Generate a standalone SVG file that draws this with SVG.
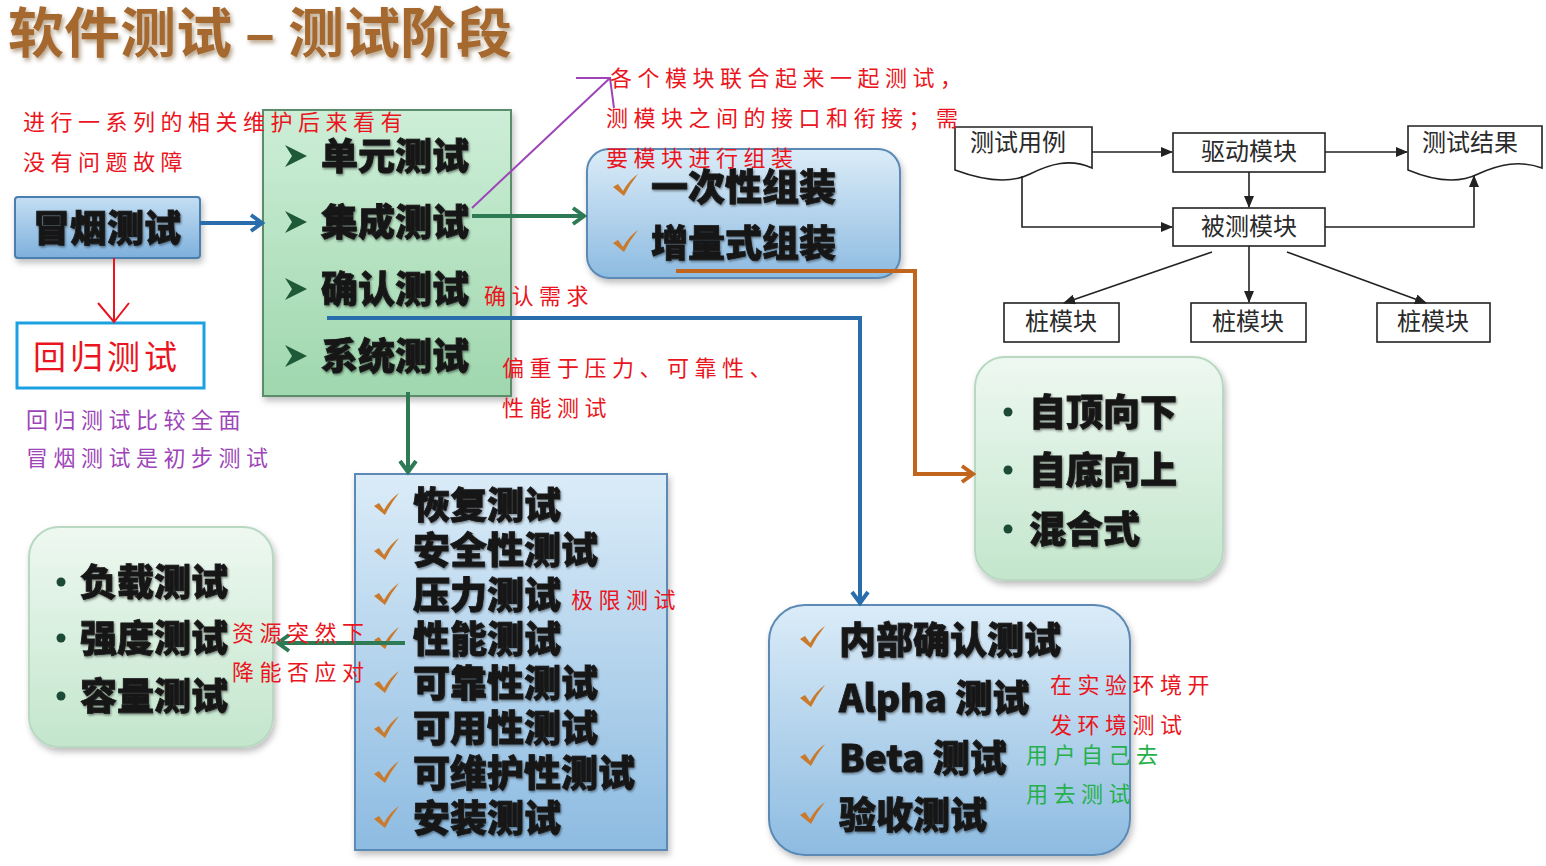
<svg xmlns="http://www.w3.org/2000/svg" width="1546" height="866" viewBox="0 0 1546 866">
  <defs>
    <style>
      .title { font-family: 'Noto Sans CJK SC', sans-serif; font-size: 54px; font-weight: 700; fill: #a5672d; }
      .item { font-family: 'Noto Sans CJK SC', sans-serif; font-size: 37px; font-weight: 900; fill: #161616; stroke: #161616; stroke-width: 0.8; }
      .note { font-family: 'Noto Sans CJK SC', sans-serif; font-size: 22px; font-weight: 400; letter-spacing: 5.5px; }
      .red { fill: #ea1520; }
      .purple { fill: #9d45b8; }
      .green { fill: #25b04a; }
      .fc { font-family: 'Noto Sans CJK SC', sans-serif; font-size: 24px; font-weight: 400; fill: #2a2a2a; }
      .fcbox { fill: #ffffff; stroke: #222222; stroke-width: 1.6; }
      .fcline { fill: none; stroke: #222222; stroke-width: 1.6; }
      .chk { fill: #c97a2c; }
      .bul { fill: #1d4a36; }
    </style>
    <linearGradient id="gGreen" x1="0" y1="0" x2="0" y2="1">
      <stop offset="0" stop-color="#cdeed7"/>
      <stop offset="1" stop-color="#9fd7ae"/>
    </linearGradient>
    <linearGradient id="gMint" x1="0" y1="0" x2="0" y2="1">
      <stop offset="0" stop-color="#eef8f1"/>
      <stop offset="1" stop-color="#c3e6cc"/>
    </linearGradient>
    <linearGradient id="gBlue" x1="0" y1="0" x2="0" y2="1">
      <stop offset="0" stop-color="#dbecf8"/>
      <stop offset="1" stop-color="#8dbbe1"/>
    </linearGradient>
    <linearGradient id="gBlueBtn" x1="0" y1="0" x2="0" y2="1">
      <stop offset="0" stop-color="#c4def3"/>
      <stop offset="1" stop-color="#7eb0dc"/>
    </linearGradient>
    <filter id="sh" x="-10%" y="-10%" width="130%" height="130%">
      <feDropShadow dx="2" dy="4" stdDeviation="3" flood-color="#000" flood-opacity="0.25"/>
    </filter>
    <filter id="ts" x="-5%" y="-10%" width="115%" height="130%">
      <feDropShadow dx="1" dy="1.5" stdDeviation="1.2" flood-color="#000" flood-opacity="0.45"/>
    </filter>
    <filter id="tts" x="-5%" y="-20%" width="115%" height="150%">
      <feDropShadow dx="2" dy="3" stdDeviation="2" flood-color="#5a3210" flood-opacity="0.45"/>
    </filter>
    <marker id="hBlue" viewBox="0 0 20 20" refX="16" refY="10" markerWidth="20" markerHeight="20" markerUnits="userSpaceOnUse" orient="auto">
      <path d="M5,2 L16,10 L5,18" fill="none" stroke="#2a6dad" stroke-width="4"/>
    </marker>
    <marker id="hGreen" viewBox="0 0 20 20" refX="16" refY="10" markerWidth="20" markerHeight="20" markerUnits="userSpaceOnUse" orient="auto">
      <path d="M5,2 L16,10 L5,18" fill="none" stroke="#2d7a55" stroke-width="4"/>
    </marker>
    <marker id="hOrange" viewBox="0 0 20 20" refX="16" refY="10" markerWidth="20" markerHeight="20" markerUnits="userSpaceOnUse" orient="auto">
      <path d="M5,2 L16,10 L5,18" fill="none" stroke="#c2651c" stroke-width="4"/>
    </marker>
    <marker id="hFc" viewBox="0 0 12 10" refX="11" refY="5" markerWidth="12" markerHeight="10" markerUnits="userSpaceOnUse" orient="auto">
      <path d="M0,0 L12,5 L0,10 Z" fill="#222"/>
    </marker>
    <path id="check" d="M-12,1 L-7,-2 L-2,5 Q4,-6 13,-12 Q5,-2 -1,10 Z"/>
    <path id="chev" d="M-11,-11 L11,0 L-11,11 L-4,0 Z"/>
  </defs>

  <rect x="0" y="0" width="1546" height="866" fill="#ffffff"/>

  <!-- heading -->
  <text class="title" x="8" y="53" textLength="504" lengthAdjust="spacingAndGlyphs" filter="url(#tts)">软件测试 – 测试阶段</text>

  <!-- smoke test -->
  <g id="smoke">
    <rect x="15" y="197" width="185" height="61" rx="3" fill="url(#gBlueBtn)" stroke="#4a7fae" stroke-width="2" filter="url(#sh)"/>
    <text class="item" x="33" y="242" filter="url(#ts)">冒烟测试</text>
  </g>

  <!-- regression test -->
  <g id="regression">
    <rect x="17" y="323" width="187" height="65" fill="#ffffff" stroke="#1ba1e2" stroke-width="3"/>
    <text x="33" y="369" font-family="'Noto Sans CJK SC', sans-serif" font-size="33" letter-spacing="4" fill="#ea1520">回归测试</text>
  </g>

  <!-- test levels -->
  <g id="levels">
    <rect x="263" y="110" width="248" height="286" fill="url(#gGreen)" stroke="#5c8c6a" stroke-width="2" filter="url(#sh)"/>
    <use href="#chev" x="296" y="156" fill="#1e5a38"/>
    <use href="#chev" x="296" y="222" fill="#1e5a38"/>
    <use href="#chev" x="296" y="289" fill="#1e5a38"/>
    <use href="#chev" x="296" y="356" fill="#1e5a38"/>
    <text class="item" x="321" y="170" filter="url(#ts)">单元测试</text>
    <text class="item" x="321" y="236" filter="url(#ts)">集成测试</text>
    <text class="item" x="321" y="303" filter="url(#ts)">确认测试</text>
    <text class="item" x="321" y="370" filter="url(#ts)">系统测试</text>
  </g>

  <!-- assembly -->
  <g id="assembly">
    <rect x="587" y="149" width="313" height="129" rx="22" fill="url(#gBlue)" stroke="#5b8ab5" stroke-width="2" filter="url(#sh)"/>
    <use href="#check" class="chk" x="625" y="186"/>
    <use href="#check" class="chk" x="625" y="242"/>
    <text class="item" x="651" y="201" filter="url(#ts)">一次性组装</text>
    <text class="item" x="651" y="257" filter="url(#ts)">增量式组装</text>
  </g>

  <!-- integration strategies -->
  <g id="strategies">
    <rect x="975" y="357" width="248" height="223" rx="30" fill="url(#gMint)" stroke="#b9d8c2" stroke-width="2" filter="url(#sh)"/>
    <circle class="bul" cx="1008" cy="412" r="4.5"/>
    <circle class="bul" cx="1008" cy="470" r="4.5"/>
    <circle class="bul" cx="1008" cy="529" r="4.5"/>
    <text class="item" x="1029" y="426" filter="url(#ts)">自顶向下</text>
    <text class="item" x="1029" y="484" filter="url(#ts)">自底向上</text>
    <text class="item" x="1029" y="543" filter="url(#ts)">混合式</text>
  </g>

  <!-- system test kinds -->
  <g id="system">
    <rect x="355" y="474" width="312" height="376" fill="url(#gBlue)" stroke="#5b8ab5" stroke-width="2" filter="url(#sh)"/>
    <use href="#check" class="chk" x="386" y="505"/>
    <use href="#check" class="chk" x="386" y="550"/>
    <use href="#check" class="chk" x="386" y="595"/>
    <use href="#check" class="chk" x="386" y="639"/>
    <use href="#check" class="chk" x="386" y="683"/>
    <use href="#check" class="chk" x="386" y="728"/>
    <use href="#check" class="chk" x="386" y="773"/>
    <use href="#check" class="chk" x="386" y="818"/>
    <text class="item" x="413" y="519" filter="url(#ts)">恢复测试</text>
    <text class="item" x="413" y="564" filter="url(#ts)">安全性测试</text>
    <text class="item" x="413" y="609" filter="url(#ts)">压力测试</text>
    <text class="item" x="413" y="653" filter="url(#ts)">性能测试</text>
    <text class="item" x="413" y="697" filter="url(#ts)">可靠性测试</text>
    <text class="item" x="413" y="742" filter="url(#ts)">可用性测试</text>
    <text class="item" x="413" y="787" filter="url(#ts)">可维护性测试</text>
    <text class="item" x="413" y="832" filter="url(#ts)">安装测试</text>
  </g>

  <!-- load tests -->
  <g id="load">
    <rect x="29" y="527" width="244" height="220" rx="30" fill="url(#gMint)" stroke="#b9d8c2" stroke-width="2" filter="url(#sh)"/>
    <circle class="bul" cx="61" cy="582" r="4.5"/>
    <circle class="bul" cx="61" cy="638" r="4.5"/>
    <circle class="bul" cx="61" cy="696" r="4.5"/>
    <text class="item" x="80" y="596" filter="url(#ts)">负载测试</text>
    <text class="item" x="80" y="652" filter="url(#ts)">强度测试</text>
    <text class="item" x="80" y="710" filter="url(#ts)">容量测试</text>
  </g>

  <!-- acceptance -->
  <g id="acceptance">
    <rect x="769" y="605" width="361" height="250" rx="36" fill="url(#gBlue)" stroke="#5b8ab5" stroke-width="2" filter="url(#sh)"/>
    <use href="#check" class="chk" x="812" y="638"/>
    <use href="#check" class="chk" x="812" y="697"/>
    <use href="#check" class="chk" x="812" y="756"/>
    <use href="#check" class="chk" x="812" y="814"/>
    <text class="item" x="839" y="654" filter="url(#ts)">内部确认测试</text>
    <text class="item" x="839" y="712" filter="url(#ts)">Alpha 测试</text>
    <text class="item" x="839" y="772" filter="url(#ts)">Beta 测试</text>
    <text class="item" x="839" y="829" filter="url(#ts)">验收测试</text>
  </g>

  <!-- driver / stub flowchart -->
  <g id="fc-cases">
    <path class="fcbox" d="M955,127 H1092 V168 C1070,158 1050,164 1030,174 C1010,184 982,180 955,170 Z"/>
    <text class="fc" x="970" y="151">测试用例</text>
  </g>
  <g id="fc-driver">
    <rect class="fcbox" x="1173" y="133" width="152" height="39"/>
    <text class="fc" x="1249" y="160" text-anchor="middle">驱动模块</text>
  </g>
  <g id="fc-result">
    <path class="fcbox" d="M1408,126 H1542 V168 C1520,160 1500,164 1478,174 C1458,184 1432,180 1408,170 Z"/>
    <text class="fc" x="1422" y="151">测试结果</text>
  </g>
  <g id="fc-unit">
    <rect class="fcbox" x="1173" y="208" width="152" height="38"/>
    <text class="fc" x="1249" y="235" text-anchor="middle">被测模块</text>
  </g>
  <g id="fc-stub1">
    <rect class="fcbox" x="1004" y="303" width="115" height="39"/>
    <text class="fc" x="1061" y="330" text-anchor="middle">桩模块</text>
  </g>
  <g id="fc-stub2">
    <rect class="fcbox" x="1191" y="303" width="115" height="39"/>
    <text class="fc" x="1248" y="330" text-anchor="middle">桩模块</text>
  </g>
  <g id="fc-stub3">
    <rect class="fcbox" x="1377" y="303" width="113" height="39"/>
    <text class="fc" x="1433" y="330" text-anchor="middle">桩模块</text>
  </g>

  <!-- connectors, drawn over the boxes -->
  <g id="connectors">
    <line x1="200" y1="223" x2="262" y2="223" stroke="#2a6dad" stroke-width="4" marker-end="url(#hBlue)"/>
    <line x1="472" y1="216" x2="584" y2="216" stroke="#2d7a55" stroke-width="4" marker-end="url(#hGreen)"/>
    <polyline points="676,271 915,271 915,474 973,474" fill="none" stroke="#c2651c" stroke-width="4" marker-end="url(#hOrange)"/>
    <polyline points="327,318 860,318 860,603" fill="none" stroke="#2a6dad" stroke-width="4" marker-end="url(#hBlue)"/>
    <line x1="408" y1="392" x2="408" y2="472" stroke="#2d7a55" stroke-width="4" marker-end="url(#hGreen)"/>
    <line x1="405" y1="643" x2="278" y2="643" stroke="#2d7a55" stroke-width="4" marker-end="url(#hGreen)"/>
    <!-- red hand-drawn arrow -->
    <line x1="114" y1="258" x2="114" y2="323" stroke="#e8141e" stroke-width="2"/>
    <polyline points="98,303 114,322 129,303" fill="none" stroke="#e8141e" stroke-width="2"/>
    <!-- purple hand-drawn arrow -->
    <line x1="472" y1="208" x2="610" y2="78" stroke="#9d45b8" stroke-width="2"/>
    <polyline points="576,78 610,78 614,108" fill="none" stroke="#9d45b8" stroke-width="2"/>
    <!-- flowchart links -->
    <line class="fcline" x1="1092" y1="152" x2="1172" y2="152" marker-end="url(#hFc)"/>
    <line class="fcline" x1="1325" y1="152" x2="1407" y2="152" marker-end="url(#hFc)"/>
    <line class="fcline" x1="1249" y1="172" x2="1249" y2="207" marker-end="url(#hFc)"/>
    <polyline class="fcline" points="1022,176 1022,227 1172,227" marker-end="url(#hFc)"/>
    <polyline class="fcline" points="1325,227 1474,227 1474,176" marker-end="url(#hFc)"/>
    <line class="fcline" x1="1212" y1="252" x2="1064" y2="303" marker-end="url(#hFc)"/>
    <line class="fcline" x1="1249" y1="246" x2="1249" y2="302" marker-end="url(#hFc)"/>
    <line class="fcline" x1="1287" y1="252" x2="1426" y2="303" marker-end="url(#hFc)"/>
  </g>

  <!-- handwritten remarks -->
  <g id="remarks">
    <text class="note red" x="23" y="130">进行一系列的相关维护后来看有</text>
    <text class="note red" x="23" y="170">没有问题故障</text>
    <text class="note purple" x="26" y="428">回归测试比较全面</text>
    <text class="note purple" x="26" y="466">冒烟测试是初步测试</text>
    <text class="note red" x="610" y="86">各个模块联合起来一起测试，</text>
    <text class="note red" x="606" y="126">测模块之间的接口和衔接；需</text>
    <text class="note red" x="606" y="166">要模块进行组装</text>
    <text class="note red" x="484" y="304">确认需求</text>
    <text class="note red" x="502" y="376">偏重于压力、可靠性、</text>
    <text class="note red" x="502" y="416">性能测试</text>
    <text class="note red" x="571" y="608">极限测试</text>
    <text class="note red" x="232" y="641">资源突然下</text>
    <text class="note red" x="232" y="680">降能否应对</text>
    <text class="note red" x="1050" y="693">在实验环境开</text>
    <text class="note red" x="1050" y="733">发环境测试</text>
    <text class="note green" x="1026" y="763">用户自己去</text>
    <text class="note green" x="1026" y="802">用去测试</text>
  </g>
</svg>
